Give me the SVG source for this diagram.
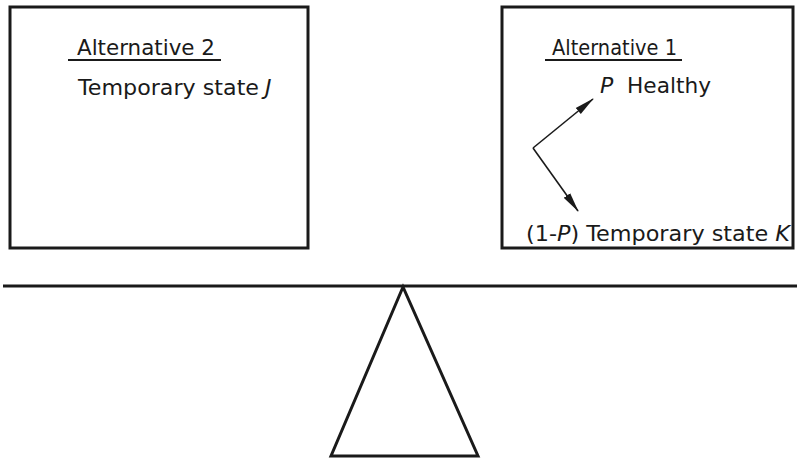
<svg xmlns="http://www.w3.org/2000/svg" width="797" height="461" viewBox="0 0 797 461">
  <defs>
    <style>
      .box { fill: #fff; stroke: #1a1a1a; stroke-width: 3; }
      .heavy { fill: none; stroke: #1a1a1a; stroke-width: 3; stroke-linejoin: miter; }
      .lbl { font-family: "DejaVu Sans", "Liberation Sans", sans-serif; font-size: 22px; fill: #1a1a1a; }
      .it { font-style: italic; }
      .edge { fill: none; stroke: #1a1a1a; stroke-width: 1.6; }
    </style>
    <marker id="arrow" viewBox="0 0 20 10" refX="19" refY="5" markerWidth="20" markerHeight="10" markerUnits="userSpaceOnUse" orient="auto">
      <path d="M0,1 L20,5 L0,9 Z" fill="#1a1a1a"/>
    </marker>
  </defs>

  <rect width="797" height="461" fill="#fff"/>

  <!-- Alternative 2 -->
  <g id="alternative-2">
    <rect class="box" x="10" y="7" width="298" height="241"/>
    <text class="lbl" x="77" y="55" textLength="138" lengthAdjust="spacingAndGlyphs">Alternative 2</text>
    <line x1="68" y1="60" x2="221" y2="60" stroke="#1a1a1a" stroke-width="2"/>
    <text class="lbl" x="78" y="95" textLength="181" lengthAdjust="spacingAndGlyphs">Temporary state</text>
    <text class="lbl it" x="265" y="95">J</text>
  </g>

  <!-- Alternative 1 -->
  <g id="alternative-1">
    <rect class="box" x="502" y="7" width="291" height="241"/>
    <text class="lbl" x="552" y="55" textLength="125" lengthAdjust="spacingAndGlyphs">Alternative 1</text>
    <line x1="545" y1="60" x2="682" y2="60" stroke="#1a1a1a" stroke-width="2"/>
    <text class="lbl it" x="600" y="93">P</text>
    <text class="lbl" x="627" y="93" textLength="84" lengthAdjust="spacingAndGlyphs">Healthy</text>
    <text class="lbl" x="526" y="241" textLength="264" lengthAdjust="spacingAndGlyphs">(1-<tspan class="it">P</tspan>) Temporary state <tspan class="it">K</tspan></text>
  </g>

  <!-- branching arrows -->
  <g id="connectors">
    <line class="edge" x1="533" y1="148" x2="593" y2="99" marker-end="url(#arrow)"/>
    <line class="edge" x1="533" y1="148" x2="578" y2="211" marker-end="url(#arrow)"/>
  </g>

  <!-- balance: beam and fulcrum -->
  <g id="balance">
    <line class="heavy" x1="3" y1="286" x2="797" y2="286"/>
    <polygon class="heavy" points="403,287 331,456 478,456"/>
  </g>
</svg>
